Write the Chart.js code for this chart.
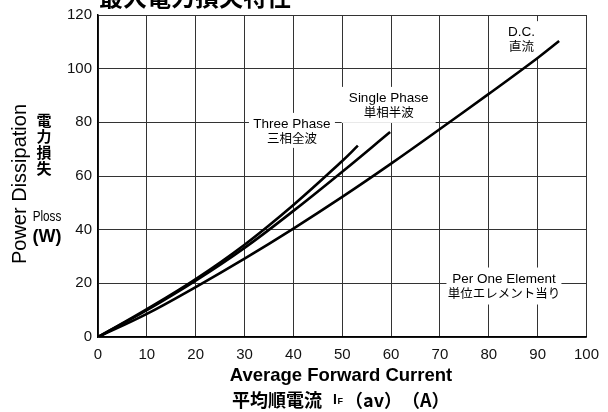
<!DOCTYPE html>
<html>
<head>
<meta charset="utf-8">
<script src="https://cdn.jsdelivr.net/npm/chart.js@4.4.1/dist/chart.umd.min.js"></script>
<style>
  html, body { margin: 0; padding: 0; background: #fff; overflow: hidden; }
  #wrap { width: 608px; height: 412px; position: relative; }
</style>
</head>
<body>
<div id="wrap"><canvas id="loss_chart" width="608" height="412"></canvas></div>
<script>
// Data (A -> W)
const dc_current = [0, 10, 20, 30, 40, 50, 60, 70, 80, 90, 94.4];
const dc_loss = [0, 8.6, 18.6, 29.2, 40.4, 52.2, 64.6, 77.5, 90.6, 104, 110.3];
const single_current = [0, 10, 20, 30, 40, 50, 59.8];
const single_loss = [0, 10, 21, 33.2, 47, 61.6, 76.4];
const three_current = [0, 10, 20, 30, 40, 50, 53.2];
const three_loss = [0, 10.4, 21.6, 34.4, 49.2, 65.6, 71.3];
const x_ticks = [0, 10, 20, 30, 40, 50, 60, 70, 80, 90, 100];
const y_ticks = [0, 20, 40, 60, 80, 100, 120];

function toPoints(xs, ys) {
    return xs.map(function (x, i) { return { x: x, y: ys[i] }; });
}

const sans = '"Liberation Sans", Arial, sans-serif';
const cjk = '"Noto Sans CJK JP", sans-serif';

// Curve labels, placed in data units, boxes cover the grid
const curve_labels = [
    { x: 39.7, y: 77, lines: ["Three Phase", "三相全波"], box: [86, 35] },
    { x: 59.5, y: 86.5, lines: ["Single Phase", "単相半波"], box: [94, 36] },
    { x: 86.7, y: 111, lines: ["D.C.", "直流"], box: [40, 36] },
    { x: 83.1, y: 19, lines: ["Per One Element", "単位エレメント当り"], box: [115, 37] },
];

const textPlugin = {
    id: "textPlugin",
    // Labels go under the curves so the boxes only hide grid lines
    beforeDatasetsDraw: function (chart) {
        const ctx = chart.ctx;
        const xs = chart.scales.x;
        const ys = chart.scales.y;
        ctx.save();
        curve_labels.forEach(function (lab) {
            const cx = xs.getPixelForValue(lab.x);
            const cy = ys.getPixelForValue(lab.y);
            ctx.fillStyle = "#fff";
            ctx.fillRect(cx - lab.box[0] / 2, cy - lab.box[1] / 2, lab.box[0], lab.box[1]);
            ctx.fillStyle = "#000";
            ctx.textAlign = "center";
            ctx.textBaseline = "middle";
            ctx.font = "13.5px " + sans;
            ctx.fillText(lab.lines[0], cx, cy - 6.5);
            ctx.font = "12.5px " + cjk;
            ctx.fillText(lab.lines[1], cx, cy + 7.5);
        });
        ctx.restore();
    },
    afterDraw: function (chart) {
        const ctx = chart.ctx;
        ctx.save();
        ctx.fillStyle = "#000";

        // Title (clipped at top like the reference)
        ctx.font = "bold 24px " + cjk;
        ctx.textAlign = "left";
        ctx.textBaseline = "alphabetic";
        ctx.fillText("最大電力損失特性", 99, 5.5);

        // Y axis titles
        ctx.save();
        ctx.translate(20, 184);
        ctx.rotate(-Math.PI / 2);
        ctx.font = "20px " + sans;
        ctx.textAlign = "center";
        ctx.textBaseline = "middle";
        ctx.fillText("Power Dissipation", 0, 0);
        ctx.restore();

        ctx.font = "bold 15px " + cjk;
        ctx.textAlign = "center";
        ctx.textBaseline = "middle";
        ["電", "力", "損", "失"].forEach(function (ch, i) {
            ctx.fillText(ch, 44, 120.5 + i * 16);
        });
        ctx.save();
        ctx.translate(47, 216.5);
        ctx.scale(0.78, 1);
        ctx.font = "15px " + sans;
        ctx.fillText("Ploss", 0, 0);
        ctx.restore();
        ctx.font = "bold 18px " + sans;
        ctx.fillText("(W)", 47, 237);

        // X axis titles
        ctx.font = "bold 18.5px " + sans;
        ctx.fillText("Average Forward Current", 341, 376);

        ctx.textAlign = "left";
        ctx.font = "bold 18px " + cjk;
        ctx.fillText("平均順電流", 232, 400);
        ctx.font = "bold 14px " + sans;
        ctx.fillText("I", 333, 400);
        ctx.font = "bold 9px " + sans;
        ctx.fillText("F", 337.5, 402);
        ctx.font = "bold 18px " + cjk;
        ctx.fillText("（av）", 345, 400);
        ctx.fillText("（A）", 402, 400);
        ctx.restore();
    }
};

const line_style = {
    borderColor: "#000",
    borderWidth: 2.6,
    pointRadius: 0,
    fill: false,
    tension: 0.4,
};

new Chart(document.getElementById("loss_chart"), {
    type: "line",
    data: {
        datasets: [
            Object.assign({ label: "D.C.", data: toPoints(dc_current, dc_loss) }, line_style),
            Object.assign({ label: "Single Phase", data: toPoints(single_current, single_loss) }, line_style),
            Object.assign({ label: "Three Phase", data: toPoints(three_current, three_loss) }, line_style),
        ]
    },
    options: {
        responsive: false,
        animation: false,
        devicePixelRatio: 1,
        layout: { padding: { top: 15, right: 20, left: 0, bottom: 0 } },
        scales: {
            x: {
                type: "linear",
                min: 0,
                max: 100,
                afterFit: function (scale) { scale.height = 75; },
                afterBuildTicks: function (scale) {
                    scale.ticks = x_ticks.map(function (v) { return { value: v }; });
                },
                grid: { color: "#333", lineWidth: 1, drawTicks: false },
                border: { color: "#000", width: 1.5 },
                ticks: { padding: 9, color: "#111", font: { family: sans, size: 15 }, maxRotation: 0 },
            },
            y: {
                type: "linear",
                min: 0,
                max: 120,
                afterFit: function (scale) { scale.width = 98; },
                afterBuildTicks: function (scale) {
                    scale.ticks = y_ticks.map(function (v) { return { value: v }; });
                },
                grid: { color: "#333", lineWidth: 1, drawTicks: false },
                border: { color: "#000", width: 1.5 },
                ticks: { padding: 6, color: "#111", font: { family: sans, size: 15 } },
            },
        },
        plugins: {
            legend: { display: false },
            tooltip: { enabled: false },
        },
    },
    plugins: [textPlugin],
});
</script>
</body>
</html>
